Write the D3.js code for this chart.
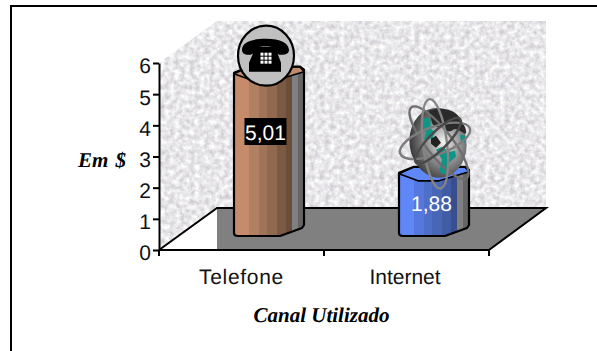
<!DOCTYPE html>
<html>
<head>
<meta charset="utf-8">
<script src="https://cdn.jsdelivr.net/npm/d3@7"></script>
<style>
html,body{margin:0;padding:0;background:#fff;overflow:hidden}
svg{display:block;text-rendering:geometricPrecision}
text{font-family:"Liberation Sans",Arial,sans-serif;fill:#111}
.title{font-family:"Liberation Serif","Times New Roman",serif;font-weight:bold;font-style:italic;font-size:21px;fill:#000}
</style>
</head>
<body>
<svg id="chart" width="597" height="351"></svg>
<script>
// Average cost per service channel
const categories = ["Telefone", "Internet"];
const values = [5.01, 1.88];
const valueLabels = ["5,01", "1,88"];
const yTicks = [0, 1, 2, 3, 4, 5, 6];
const brownBands = ["#c58b6b", "#b17f62", "#a17459", "#91694f", "#7b5a45", "#6b4d3a", "#808080", "#656565"];
const blueBands = ["#5f87f7", "#5578de", "#4e6ec8", "#4866b6", "#415ca4", "#394f8d", "#808080", "#656565"];
const bandStops = [0, 15, 25, 33, 43, 52, 58, 64, 70];
const bandColors = [brownBands, blueBands];
const topColors = ["#c08a6c", "#5f87f7"];

const svg = d3.select("#chart");
const defs = svg.append("defs");

const y = d3.scaleLinear().domain([0, 6]).range([250, 63]);
const x = d3.scaleBand().domain(categories).range([159, 489]);
// Bars stand on the middle of the floor, so they use a shifted vertical scale
const barY = d3.scaleLinear().domain([0, 6]).range([233, 41]);
const depthX = 27.5, depthY = 42, floorDepthX = 58;

// Mottled wall texture
const noise = defs.append("filter").attr("id", "wallNoise")
  .attr("filterUnits", "userSpaceOnUse")
  .attr("x", 150).attr("y", 10).attr("width", 410).attr("height", 250)
  .attr("color-interpolation-filters", "sRGB");
noise.append("feTurbulence").attr("type", "fractalNoise")
  .attr("baseFrequency", 0.2).attr("numOctaves", 4).attr("seed", 7).attr("result", "n");
noise.append("feColorMatrix").attr("in", "n").attr("type", "matrix")
  .attr("values", "0.03 0.3 0 0 0.745  0 0.33 0 0 0.74  0 0.3 0.03 0 0.75  0 0 0 0 1")
  .attr("result", "c");
noise.append("feComposite").attr("in", "c").attr("in2", "SourceGraphic").attr("operator", "in");

// Outer frame: only the top and left edges fall inside the page
svg.append("path").attr("d", "M11,351V6H597").attr("fill", "none").attr("stroke", "#000").attr("stroke-width", 2);

const x0 = x.range()[0], x1 = x.range()[1], y0 = y(0), y6 = y(6);
const backY = y0 - depthY;

svg.append("path")
  .attr("d", `M${x0},${y6}L${x0 + floorDepthX},${y6 - depthY}H${x1 + floorDepthX - 1}V${backY}H${x0 + floorDepthX}L${x0},${y0}Z`)
  .attr("fill", "#e6e6e6").attr("filter", "url(#wallNoise)");

// Floor
svg.append("path")
  .attr("d", `M${x0 + floorDepthX},${backY}H${x1 + floorDepthX - 1}L${x1},${y0}H${x0 + floorDepthX}Z`)
  .attr("fill", "#808080");
svg.append("path")
  .attr("d", `M${x0},${y0}L${x0 + floorDepthX},${backY}H${x1 + floorDepthX - 1}L${x1},${y0}`)
  .attr("fill", "none").attr("stroke", "#000").attr("stroke-width", 2);

// Axes
const yAxis = d3.axisLeft(y).tickValues(yTicks).tickSize(6).tickSizeOuter(0).tickPadding(2).tickFormat(d3.format("d"));
const gy = svg.append("g").attr("transform", `translate(${x0},0)`).call(yAxis);
gy.selectAll("text").attr("font-size", 21).attr("dy", "0.47em").style("font-family", '"Liberation Sans",Arial,sans-serif').attr("fill", "#111");
gy.selectAll("line,path").attr("stroke", "#000").attr("stroke-width", 2);

svg.append("path").attr("d", `M${x0},${y0}H${x1}`).attr("stroke", "#000").attr("stroke-width", 2);
svg.selectAll("line.xtick").data([x0, x0 + x.bandwidth(), x1]).join("line").attr("class", "xtick")
  .attr("x1", d => d).attr("x2", d => d).attr("y1", y0).attr("y2", y0 + 6)
  .attr("stroke", "#000").attr("stroke-width", 2);
svg.selectAll("text.cat").data(categories).join("text").attr("class", "cat")
  .attr("x", d => x(d) + x.bandwidth() / 2 - (d === "Internet" ? 1.5 : 0))
  .attr("y", 284).attr("text-anchor", "middle")
  .attr("font-size", 21).attr("letter-spacing", d => d === "Telefone" ? 0.7 : 0).text(d => d);

// Facetted cylinders
const halfW = 35;
const cx = d => x(d) + x.bandwidth() / 2 + depthX;
const bars = svg.selectAll("g.bar").data(categories).join("g").attr("class", "bar");
bars.each(function (cat, i) {
  const g = d3.select(this);
  const T = barY(values[i]), B = barY(0), L = cx(cat) - halfW, R = cx(cat) + halfW;
  const outline = `M${L},${T}L${L + 15},${T - 6}L${R - 4},${T - 6}L${R},${T - 3}V${B - 8}L${R - 2},${B - 5}L${R - 24},${B + 3}H${L + 4}Q${L},${B + 3} ${L},${B}Z`;
  const clipId = "barClip" + i;
  defs.append("clipPath").attr("id", clipId).append("path").attr("d", outline);
  g.append("g").attr("clip-path", `url(#${clipId})`)
    .selectAll("rect").data(bandColors[i]).join("rect")
    .attr("x", (d, k) => L + bandStops[k]).attr("y", T - 10)
    .attr("width", (d, k) => bandStops[k + 1] - bandStops[k] + 0.5)
    .attr("height", B - T + 15).attr("fill", d => d);
  g.append("path")
    .attr("d", `M${L},${T + 1}L${L + 19},${T + 8}H${L + 40}L${R},${T - 1}L${R - 4},${T - 6}L${L + 15},${T - 6}Z`)
    .attr("fill", topColors[i]).attr("stroke", "#000").attr("stroke-width", 1.6).attr("stroke-linejoin", "round");
  g.append("path").attr("d", outline).attr("fill", "none")
    .attr("stroke", "#000").attr("stroke-width", 2.2).attr("stroke-linejoin", "round");
});

// Telephone badge above the first cylinder
const phone = svg.append("g").attr("transform", `translate(${cx(categories[0]) - 3},${barY(values[0]) - 17})`);
phone.append("ellipse").attr("rx", 28).attr("ry", 30).attr("fill", "#c0c0c0").attr("stroke", "#000").attr("stroke-width", 2.2);
phone.append("path").attr("fill", "#000")
  .attr("d", "M-24,-6C-24,-13 -15,-17 0,-17C15,-17 22,-13 23,-6C23,-2 20,-1 15,-1C11,-1 9,-3 9,-8C4,-10 -5,-10 -10,-8C-10,-3 -13,-1 -17,-1C-22,-1 -24,-3 -24,-6Z");
phone.append("path").attr("fill", "#000").attr("d", "M-10,-9H9L15,7V16H-17V7Z");
const keyRows = [-3, 1, 5], keyCols = [-5, -1, 3];
keyRows.forEach(ky => keyCols.forEach(kx => phone.append("rect")
  .attr("x", kx - 0.5).attr("y", ky).attr("width", 3).attr("height", 3).attr("fill", "#fff")));

// Globe with orbits above the second cylinder
const rad = defs.append("radialGradient").attr("id", "globeShade")
  .attr("cx", "0.6").attr("cy", "0.5").attr("r", "0.62");
[[0, "#f5f5f5"], [0.3, "#b4b4b4"], [0.7, "#686868"], [1, "#333"]].forEach(s =>
  rad.append("stop").attr("offset", s[0]).attr("stop-color", s[1]));
const globe = svg.append("g").attr("transform", `translate(${cx(categories[1]) + 4},${barY(values[1]) - 30})`);
globe.append("ellipse").attr("rx", 28.5).attr("ry", 35).attr("fill", "url(#globeShade)")
  .attr("transform", "rotate(-8)");
globe.append("path").attr("fill", "#2a2a2a")
  .attr("d", "M-9,-32C2,-36 15,-34 21,-26C25,-20 29,-14 28,-9C22,-11 19,-16 15,-13C11,-9 6,-13 5,-17C0,-15 -4,-15 -6,-20Z");
globe.append("path").attr("fill", "#0f9488")
  .attr("d", "M-17,-24L-8,-25L-7,-14L-3,-10L-6,-4L-14,-3L-12,-11L-17,-14Z");
globe.append("path").attr("fill", "#0f9488")
  .attr("d", "M-2,7L4,4L12,9L17,8L18,14L10,21L8,32L1,29L4,17Z");
globe.append("path").attr("fill", "#0f9488").attr("d", "M22,-8L27,-7L27,0L23,-1Z");
globe.append("path").attr("fill", "#222").attr("d", "M-7,-4L-2,-7L3,0L-2,5L-7,1Z");
// Orbits: angle, centre offset, radii, colour
[[52, 1, 0, 45, 13, "#6e6e6e"], [-20, -3, -2, 37, 14, "#7d7d7d"], [83, -3, 1, 45, 12, "#858585"], [-45, 0, -2, 31, 9, "#4a4a4a"]].forEach(o =>
  globe.append("ellipse").attr("rx", o[3]).attr("ry", o[4])
    .attr("transform", `translate(${o[1]},${o[2]}) rotate(${o[0]})`)
    .attr("fill", "none").attr("stroke", o[5]).attr("stroke-width", 2.4));

// Value labels on the cylinders
svg.append("rect").attr("x", cx(categories[0]) - 24.5).attr("y", 118).attr("width", 42).attr("height", 27).attr("fill", "#000");
svg.selectAll("text.val").data(categories).join("text").attr("class", "val")
  .attr("x", (d, i) => cx(d) + (i ? -2.5 : -3.5))
  .attr("y", (d, i) => i ? barY(values[i]) + 38.5 : 140)
  .attr("text-anchor", "middle").attr("font-size", 21).style("fill", "#fff")
  .text((d, i) => valueLabels[i]);

// Axis titles
svg.append("text").attr("class", "title").attr("x", 126).attr("y", 167).attr("text-anchor", "end").attr("word-spacing", 2).text("Em $");
svg.append("text").attr("class", "title").attr("x", 321.5).attr("y", 322).attr("text-anchor", "middle").text("Canal Utilizado");
</script>
</body>
</html>
